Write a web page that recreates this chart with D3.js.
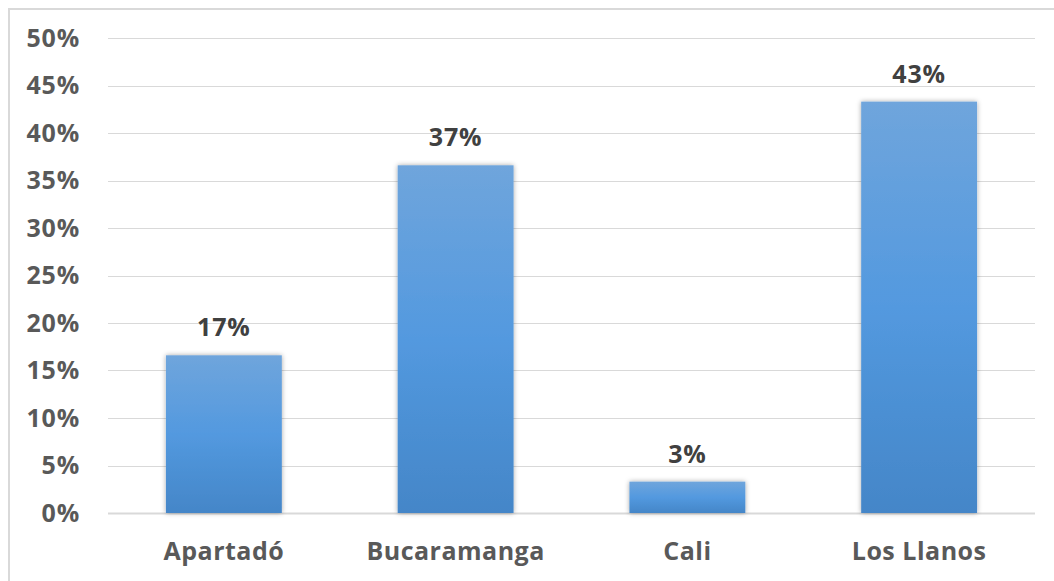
<!DOCTYPE html>
<html><head><meta charset="utf-8">
<script src="https://cdn.jsdelivr.net/npm/d3@7"></script>
<style>body{margin:0;background:#fff;} svg{display:block;font-family:"Open Sans",sans-serif;}</style>
</head><body>
<svg id="c" width="1054" height="581"></svg>
<script>
const categories = ["Apartadó", "Bucaramanga", "Cali", "Los Llanos"];
const values = [0.166, 0.366, 0.033, 0.433];
const valueLabels = ["17%", "37%", "3%", "43%"];
const yTicks = [0, 0.05, 0.10, 0.15, 0.20, 0.25, 0.30, 0.35, 0.40, 0.45, 0.50];

const svg = d3.select("#c");
const mLeft = 108, mRight = 1035, mTop = 38, mBottom = 513;

// chart border (left & top visible)
svg.append("rect").attr("x", 9).attr("y", 9).attr("width", 1100).attr("height", 1100)
  .attr("fill", "none").attr("stroke", "#d9d9d9").attr("stroke-width", 2);

const x = d3.scaleBand().domain(categories).range([mLeft, mRight]).paddingInner(0.5).paddingOuter(0.25);
const y = d3.scaleLinear().domain([0, 0.5]).range([mBottom, mTop]);

const defs = svg.append("defs");
const grad = defs.append("linearGradient").attr("id", "g").attr("x1", 0).attr("y1", 0).attr("x2", 0).attr("y2", 1);
grad.append("stop").attr("offset", "0%").attr("stop-color", "#6fa5dc");
grad.append("stop").attr("offset", "50%").attr("stop-color", "#5399df");
grad.append("stop").attr("offset", "100%").attr("stop-color", "#4486c8");
const f = defs.append("filter").attr("id", "sh").attr("x", "-20%").attr("y", "-20%").attr("width", "140%").attr("height", "140%");
f.append("feDropShadow").attr("dx", 0).attr("dy", 0).attr("stdDeviation", 2.5).attr("flood-color", "#000").attr("flood-opacity", 0.35);

// gridlines
svg.append("g").selectAll("line").data(yTicks).join("line")
  .attr("x1", mLeft).attr("x2", mRight)
  .attr("y1", d => Math.round(y(d)) + 0.5).attr("y2", d => Math.round(y(d)) + 0.5)
  .attr("stroke", "#d9d9d9").attr("stroke-width", d => d === 0 ? 2 : 1);

const fs = 25;
// y axis labels
const yAxis = d3.axisLeft(y).tickValues(yTicks).tickFormat(d3.format(".0%")).tickSize(0).tickPadding(0);
const ya = svg.append("g").attr("transform", `translate(80,0)`).call(yAxis);
ya.select(".domain").remove();
ya.selectAll("text").attr("font-size", fs).attr("font-weight", "bold").attr("fill", "#595959")
  .attr("letter-spacing", 0.8).attr("font-family", "'Open Sans',sans-serif");

// bars
svg.append("g").selectAll("rect").data(values).join("rect")
  .attr("x", (d, i) => x(categories[i])).attr("width", x.bandwidth())
  .attr("y", d => y(d)).attr("height", d => y(0) - y(d))
  .attr("fill", "url(#g)").attr("filter", "url(#sh)");

// value labels
svg.append("g").selectAll("text").data(values).join("text")
  .attr("x", (d, i) => x(categories[i]) + x.bandwidth() / 2)
  .attr("y", d => y(d) - 19)
  .attr("text-anchor", "middle").attr("font-size", fs).attr("font-weight", "bold").attr("fill", "#404040")
  .attr("letter-spacing", 0.8)
  .text((d, i) => valueLabels[i]);

// category axis
const xAxis = d3.axisBottom(x).tickSize(0).tickPadding(0);
const xa = svg.append("g").attr("transform", `translate(0,560)`).call(xAxis);
xa.select(".domain").remove();
xa.selectAll("text").attr("font-size", fs).attr("font-weight", "bold").attr("fill", "#595959")
  .attr("letter-spacing", 0.5).attr("dy", 0).attr("font-family", "'Open Sans',sans-serif");
</script>
</body></html>
